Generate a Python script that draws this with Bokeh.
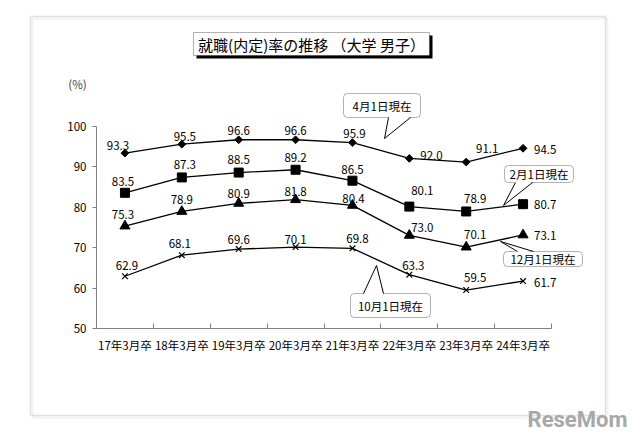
import numpy as np
from bokeh.plotting import figure
from bokeh.models import Range1d, FixedTicker, LinearAxis, BoxAnnotation, Label, ColumnDataSource
from bokeh.embed import file_html
from bokeh.resources import INLINE
from bokeh.core.properties import value

# ---------------- data ----------------
categories = ["17年3月卒", "18年3月卒", "19年3月卒", "20年3月卒",
              "21年3月卒", "22年3月卒", "23年3月卒", "24年3月卒"]
apr1 = [93.3, 95.5, 96.6, 96.6, 95.9, 92.0, 91.1, 94.5]   # 4月1日現在
feb1 = [83.5, 87.3, 88.5, 89.2, 86.5, 80.1, 78.9, 80.7]   # 2月1日現在
dec1 = [75.3, 78.9, 80.9, 81.8, 80.4, 73.0, 70.1, 73.1]   # 12月1日現在
oct1 = [62.9, 68.1, 69.6, 70.1, 69.8, 63.3, 59.5, 61.7]   # 10月1日現在
y_ticks = [50, 60, 70, 80, 90, 100]
title_text = "就職(内定)率の推移 （大学 男子）"
unit_text = "(%)"

# ---------------- layout (pixels) ----------------
W, H = 640, 444
FL, FR, FT, FB = 30, 605, 16, 415          # outer frame box
AX0, AX8 = 96, 551                          # x pixel of category edges 0 and 8
Y100, Y50 = 125.5, 328.0                    # y pixel of 100 and 50
xpp = 8.0 / (AX8 - AX0)
ypp = 50.0 / (Y50 - Y100)

def X(px):
    return (px - AX0) * xpp

def Y(py):
    return 100 - (py - Y100) * ypp

FONT = "Noto Sans CJK JP"

p = figure(width=W, height=H, title=None,
           x_range=Range1d(X(0), X(W)), y_range=Range1d(Y(H), Y(0)),
           x_axis_type=None, y_axis_type=None,
           output_backend="svg", toolbar_location=None,
           min_border_left=0, min_border_right=0,
           min_border_top=0, min_border_bottom=0)
p.xgrid.visible = False
p.ygrid.visible = False
p.outline_line_color = None
p.background_fill_color = "white"
p.border_fill_color = "white"

# outer gray frame with a soft shadow
p.add_layout(BoxAnnotation(left=X(FL + 2), right=X(FR + 2), top=Y(FT + 2), bottom=Y(FB + 2),
                           fill_color=None, fill_alpha=0, line_color="#d0d0d0", line_width=1.5))
p.add_layout(BoxAnnotation(left=X(FL), right=X(FR), top=Y(FT), bottom=Y(FB),
                           fill_color=None, fill_alpha=0, line_color="#9c9c9c",
                           line_width=1.5))

n = len(categories)
centers = [i + 0.5 for i in range(n)]

# axes
yaxis = LinearAxis(fixed_location=0, bounds=(50, 100),
                   ticker=FixedTicker(ticks=y_ticks, minor_ticks=[]))
yaxis.axis_line_color = "#808080"
yaxis.major_tick_line_color = "#808080"
yaxis.major_tick_in = 0
yaxis.major_tick_out = 4
yaxis.minor_tick_line_color = None
yaxis.major_label_standoff = 6
yaxis.major_label_text_font = FONT
yaxis.major_label_text_font_size = "11.5px"
yaxis.major_label_text_color = "black"
p.add_layout(yaxis, "left")

xaxis = LinearAxis(fixed_location=50, bounds=(0, n),
                   ticker=FixedTicker(ticks=centers, minor_ticks=list(range(1, n + 1))),
                   major_label_overrides={c: lab for c, lab in zip(centers, categories)})
xaxis.axis_line_color = "#808080"
xaxis.major_tick_line_color = None
xaxis.major_tick_in = 0
xaxis.major_tick_out = 0
xaxis.minor_tick_line_color = "#808080"
xaxis.minor_tick_in = 5
xaxis.minor_tick_out = 0
xaxis.major_label_standoff = 8
xaxis.major_label_text_font = FONT
xaxis.major_label_text_font_size = "11.5px"
xaxis.major_label_text_color = "black"
p.add_layout(xaxis, "below")

# series
series = [
    (apr1, dict(marker="square", size=5.5, angle=np.pi / 4)),
    (feb1, dict(marker="square", size=9)),
    (dec1, dict(marker="triangle", size=10)),
    (oct1, dict(marker="x", size=8, line_width=1.2)),
]
for vals, mk in series:
    p.line(centers, vals, line_color="black", line_width=1.3)
    p.scatter(centers, vals, color="black", **mk)

# data labels: (align, dx, dy) in pixels
label_style = [
    [("center", -7, -8), ("center", 3, -8), ("center", 0, -9), ("center", 0, -9),
     ("center", 2, -9), ("left", 11, -3), ("center", 21, -14), ("left", 11, 1)],
    [("center", -2, -11), ("center", 3, -13), ("center", 0, -13), ("center", 0, -12),
     ("center", 0, -11), ("center", 13, -16), ("center", 9, -13), ("left", 11, 0)],
    [("center", -2, -12), ("center", 0, -12), ("center", 0, -10), ("center", 0, -8),
     ("center", 1, -7), ("center", 13, -8), ("center", 9, -13), ("left", 11, 1)],
    [("center", 2, -11), ("center", -2, -12), ("center", 0, -10), ("center", 0, -8),
     ("center", 5, -10), ("center", 4, -9), ("center", 9, -13), ("left", 11, 1)],
]
lx, ly, lt, la, ldx, ldy = [], [], [], [], [], []
for (vals, _), styles in zip(series, label_style):
    for c, v, (al, dx, dy) in zip(centers, vals, styles):
        lx.append(c); ly.append(v); lt.append(f"{v:.1f}")
        la.append(al); ldx.append(dx); ldy.append(dy)
src = ColumnDataSource(dict(x=lx, y=ly, text=lt, align=la, dx=ldx, dy=ldy))
p.text(x="x", y="y", text="text", source=src, text_align="align",
       text_baseline="middle", x_offset="dx", y_offset="dy",
       text_font=value(FONT), text_font_size="11.5px", text_color="black")

# unit label
p.add_layout(Label(x=X(77), y=Y(83), text=unit_text, text_align="center",
                   text_baseline="middle", text_font=FONT, text_font_size="11.5px"))

# title box with shadow
p.add_layout(BoxAnnotation(left=X(196), right=X(432), top=Y(35), bottom=Y(58),
                           fill_color="black", fill_alpha=1, line_color=None))
p.add_layout(BoxAnnotation(left=X(193), right=X(429), top=Y(32), bottom=Y(55),
                           fill_color="white", fill_alpha=1, line_color="black",
                           line_width=1))
p.add_layout(Label(x=X(311), y=Y(44), text=title_text, text_align="center",
                   text_baseline="middle", text_font=FONT, text_font_size="15px",
                   text_color="black"))

# callouts
def callout(text, l, t, r, b, b1, b2, tip, inward):
    p.add_layout(BoxAnnotation(left=X(l), right=X(r), top=Y(t), bottom=Y(b),
                               fill_color="white", fill_alpha=1, line_color="black",
                               line_width=1, border_radius=4))
    p.add_layout(Label(x=X((l + r) / 2), y=Y((t + b) / 2), text=text,
                       text_align="center", text_baseline="middle",
                       text_font=FONT, text_font_size="11.5px", text_color="black"))
    (x1, y1), (x2, y2) = b1, b2
    p.patch([X(x1), X(tip[0]), X(x2)], [Y(y1 + inward), Y(tip[1]), Y(y2 + inward)],
            fill_color="white", line_color=None, level="overlay")
    p.multi_line([[X(x1), X(tip[0])], [X(x2), X(tip[0])]],
                 [[Y(y1), Y(tip[1])], [Y(y2), Y(tip[1])]],
                 line_color="black", line_width=1, level="overlay")

callout("4月1日現在", 343, 93, 420, 117, (388, 117), (410, 117), (384, 138), -1.5)
callout("2月1日現在", 504, 165, 573, 182, (515, 182), (532, 182), (503, 205), -1.5)
callout("12月1日現在", 503, 251, 582, 266, (517, 251), (533, 251), (500, 241), 1.5)
callout("10月1日現在", 350, 293, 430, 317, (363, 293), (383, 293), (376, 265), 1.5)

# watermark
p.add_layout(Label(x=X(577), y=Y(419), text="ReseMom", text_align="center",
                   text_baseline="middle", text_font="Roboto", text_font_size="22px",
                   text_font_style="bold", text_color="#a8a8a8"))

open("out.html", "w").write(file_html(p, INLINE))
